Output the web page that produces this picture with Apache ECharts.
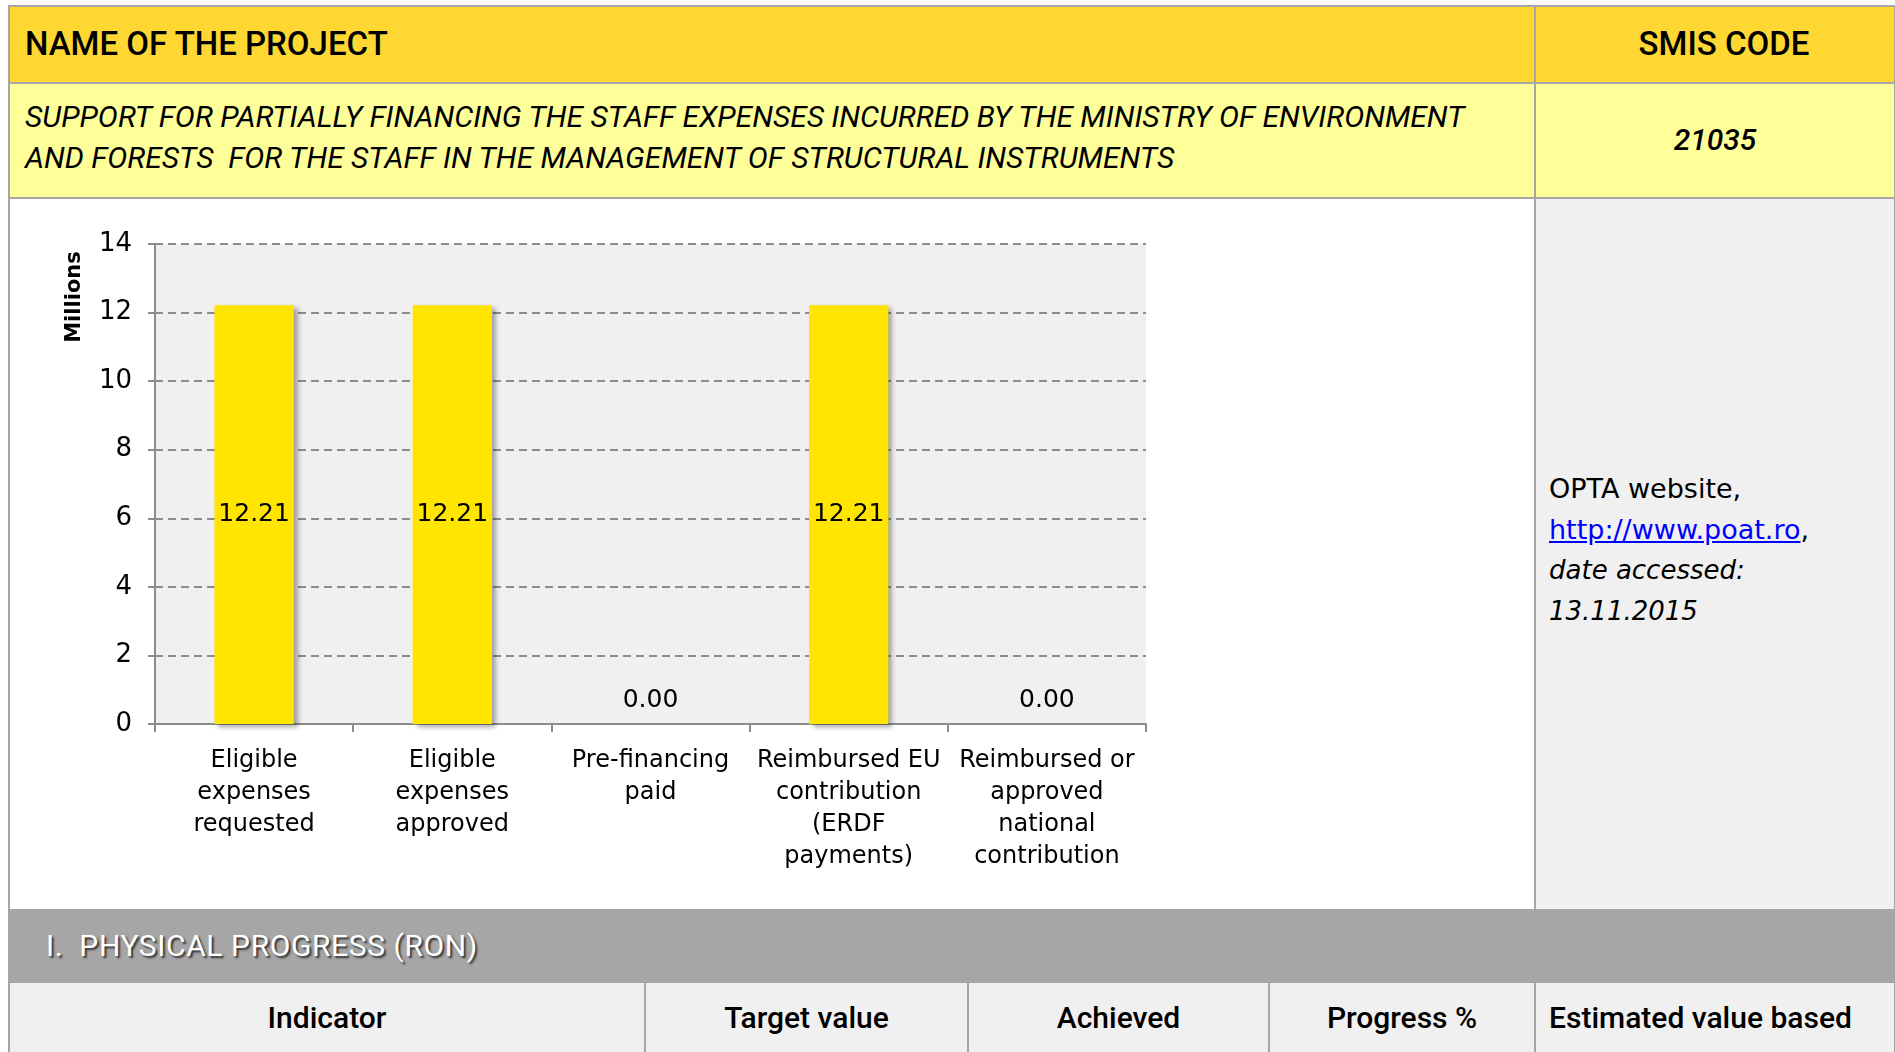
<!DOCTYPE html>
<html>
<head>
<meta charset="utf-8">
<script src="https://cdn.jsdelivr.net/npm/echarts@6/dist/echarts.min.js"></script>
<style>
  html, body { margin: 0; padding: 0; background: #fff; overflow: hidden; }
  #page { position: relative; width: 1895px; height: 1052px; overflow: hidden; }
  .cell { position: absolute; box-sizing: border-box; border: 2px solid #a6a6a6; }
  .hdr { background: #ffd733; font-family: Roboto, sans-serif; font-weight: 500; font-size: 33px; color: #000; line-height: 73px; }
  .sub { background: #ffff99; font-family: Roboto, sans-serif; font-style: italic; font-size: 30px; color: #000; }
  .gray { background: #f0f0f0; }
  .th { background: #f0f0f0; font-family: Roboto, sans-serif; font-weight: 500; font-size: 30px; line-height: 70px; text-align: center; }
  #linemain { position: absolute; left: 10px; top: 198px; width: 1523px; height: 710px; }
  a { color: #0000ff; }
</style>
</head>
<body>
<div id="page">
  <div class="cell hdr" style="left:8px;top:5px;width:1528px;height:79px;padding-left:15px;">NAME OF THE PROJECT</div>
  <div class="cell hdr" style="left:1534px;top:5px;width:362px;height:79px;text-align:center;padding-left:18px;">SMIS CODE</div>
  <div class="cell sub" style="left:8px;top:82px;width:1528px;height:117px;padding:12px 0 0 15px;line-height:41px;">SUPPORT FOR PARTIALLY FINANCING THE STAFF EXPENSES INCURRED BY THE MINISTRY OF ENVIRONMENT<br>AND FORESTS&nbsp; FOR THE STAFF IN THE MANAGEMENT OF STRUCTURAL INSTRUMENTS</div>
  <div class="cell sub" style="left:1534px;top:82px;width:362px;height:117px;text-align:center;line-height:111px;font-weight:500;">21035</div>
  <div class="cell" style="left:8px;top:197px;width:1528px;height:714px;background:#fff;"></div>
  <div class="cell gray" style="left:1534px;top:197px;width:362px;height:714px;font-family:'DejaVu Sans',sans-serif;font-size:27px;line-height:40.5px;">
    <div style="position:absolute;left:13px;top:270px;">OPTA website,<br><a href="#">http://www.poat.ro</a>,<br><i style="font-size:26px;">date accessed:<br>13.11.2015</i></div>
  </div>
  <div class="cell" style="left:8px;top:909px;width:1888px;height:74px;background:#a6a6a6;color:#fff;font-family:Roboto,sans-serif;font-weight:400;font-size:30px;letter-spacing:0.6px;line-height:70px;padding-left:36px;text-shadow:2px 2px 2px #333;">I.&nbsp; PHYSICAL PROGRESS (RON)</div>
  <div class="cell th" style="left:8px;top:981px;width:638px;height:90px;">Indicator</div>
  <div class="cell th" style="left:644px;top:981px;width:325px;height:90px;">Target value</div>
  <div class="cell th" style="left:967px;top:981px;width:303px;height:90px;">Achieved</div>
  <div class="cell th" style="left:1268px;top:981px;width:268px;height:90px;">Progress %</div>
  <div class="cell th" style="left:1534px;top:981px;width:362px;height:90px;text-align:left;padding-left:13px;">Estimated value based</div>
  <div id="linemain"></div>
</div>
<script>
// chart data
var categories = [
  "Eligible\nexpenses\nrequested",
  "Eligible\nexpenses\napproved",
  "Pre-financing\npaid",
  "Reimbursed EU\ncontribution\n(ERDF\npayments)",
  "Reimbursed or\napproved\nnational\ncontribution"
];
var values = [12.21, 12.21, 0.0, 12.21, 0.0]; // millions
var yMin = 0;
var yMax = 14;
var yStep = 2;

var myChart = echarts.init(document.getElementById("linemain"));
var barData = values.map(function (v) {
  return {
    value: v,
    label: v > 0 ? { position: "inside" } : { position: "top", distance: 11 }
  };
});
var option = {
  animation: false,
  grid: {
    left: 145,
    top: 46,
    width: 991,
    height: 480,
    show: true,
    backgroundColor: "#f0f0f0",
    borderWidth: 0
  },
  graphic: [
    {
      type: "text",
      x: 65,
      y: 99,
      rotation: Math.PI / 2,
      style: {
        text: "Millions",
        font: "bold 21px 'DejaVu Sans'",
        fill: "#000",
        align: "center",
        verticalAlign: "middle"
      }
    }
  ],
  xAxis: {
    type: "category",
    data: categories,
    axisLine: { lineStyle: { color: "#8c8c8c", width: 2 } },
    axisTick: { show: true, length: 8, lineStyle: { color: "#8c8c8c", width: 2 } },
    axisLabel: {
      interval: 0,
      margin: 21,
      color: "#000",
      fontFamily: "DejaVu Sans",
      fontSize: 24,
      lineHeight: 32
    }
  },
  yAxis: {
    type: "value",
    min: yMin,
    max: yMax,
    interval: yStep,
    axisLine: { show: true, lineStyle: { color: "#8c8c8c", width: 2 } },
    axisTick: { show: true, length: 7, lineStyle: { color: "#8c8c8c", width: 2 } },
    axisLabel: { margin: 23, color: "#000", fontFamily: "DejaVu Sans", fontSize: 26 },
    splitLine: { lineStyle: { color: "#8c8c8c", width: 2, type: [8, 5] } }
  },
  series: [
    {
      type: "bar",
      data: barData,
      barWidth: "40%",
      itemStyle: {
        color: "#ffe500",
        shadowColor: "rgba(0,0,0,0.35)",
        shadowBlur: 5,
        shadowOffsetX: 4,
        shadowOffsetY: 3
      },
      label: {
        show: true,
        color: "#000",
        fontFamily: "DejaVu Sans",
        fontSize: 25,
        formatter: function (p) {
          return p.value.toFixed(2);
        }
      }
    }
  ]
};
myChart.setOption(option);
</script>
</body>
</html>
